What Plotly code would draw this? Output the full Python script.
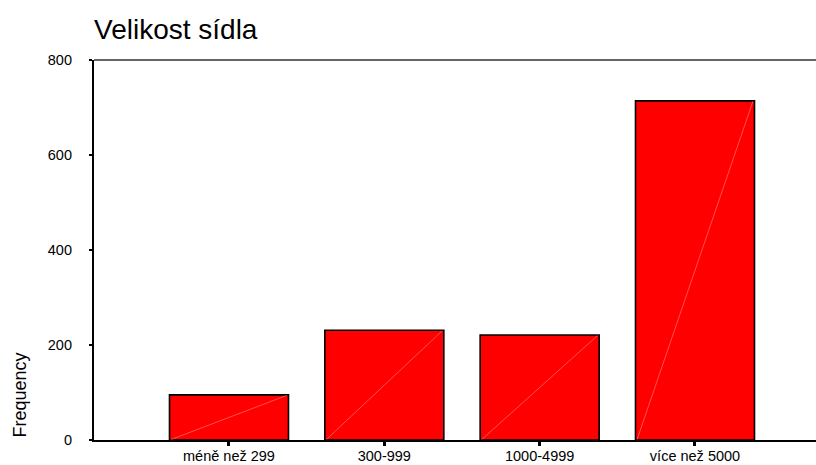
import plotly.graph_objects as go

categories = ["méně než 299", "300-999", "1000-4999", "více než 5000"]
frequencies = [95, 231, 221, 714]
y_ticks = [0, 200, 400, 600, 800]

positions = list(range(len(categories)))
bar_width = 0.766

fig = go.Figure()
fig.add_trace(go.Bar(
    x=positions, y=frequencies, width=bar_width,
    marker=dict(color="#ff0000", line=dict(color="#000000", width=1.6)),
    showlegend=False, hoverinfo="x+y",
))

# faint diagonal seam inside each bar (bottom-left to top-right)
for p, v in zip(positions, frequencies):
    fig.add_trace(go.Scatter(
        x=[p - bar_width / 2 + 0.01, p + bar_width / 2 - 0.01], y=[1, v - 1],
        mode="lines", line=dict(color="rgba(255,170,170,0.8)", width=0.6),
        showlegend=False, hoverinfo="skip",
    ))

fig.update_layout(
    width=816, height=465,
    margin=dict(l=94, r=0, t=60, b=25, autoexpand=False),
    paper_bgcolor="white", plot_bgcolor="white",
    font=dict(family="Liberation Sans, Arial, sans-serif", color="#000000"),
    title=dict(text="Velikost sídla", x=0, xref="paper", xanchor="left",
               y=1 - 29 / 465, yref="container", yanchor="middle",
               font=dict(size=28, color="#000000")),
    xaxis=dict(range=[-0.869, 3.779], tickvals=positions, ticktext=categories,
               showgrid=False, zeroline=False, showline=True, linecolor="#000000",
               linewidth=1.6, ticks="outside", ticklen=4, tickwidth=3,
               tickcolor="#000000", tickfont=dict(size=14.5), automargin=False,
               ticklabelstandoff=-2),
    yaxis=dict(range=[0, 800], tickvals=y_ticks, showgrid=False, zeroline=False,
               showline=True, linecolor="#000000", linewidth=2.2, ticks="outside",
               ticklen=3, tickwidth=2, tickcolor="#000000",
               tickfont=dict(size=14.5), ticklabelstandoff=14, automargin=False),
    shapes=[dict(type="line", xref="paper", yref="paper", x0=0, x1=1, y0=1, y1=1,
                 line=dict(color="#333333", width=1.5))],
    annotations=[dict(text="Frequency", textangle=-90, xref="paper", yref="y",
                      x=-75 / 722, y=0, xanchor="center", yanchor="bottom",
                      showarrow=False, font=dict(size=18, color="#000000"))],
)

fig.write_html("out.html", config={"displayModeBar": False},
               post_script="document.body.style.margin='0';")
